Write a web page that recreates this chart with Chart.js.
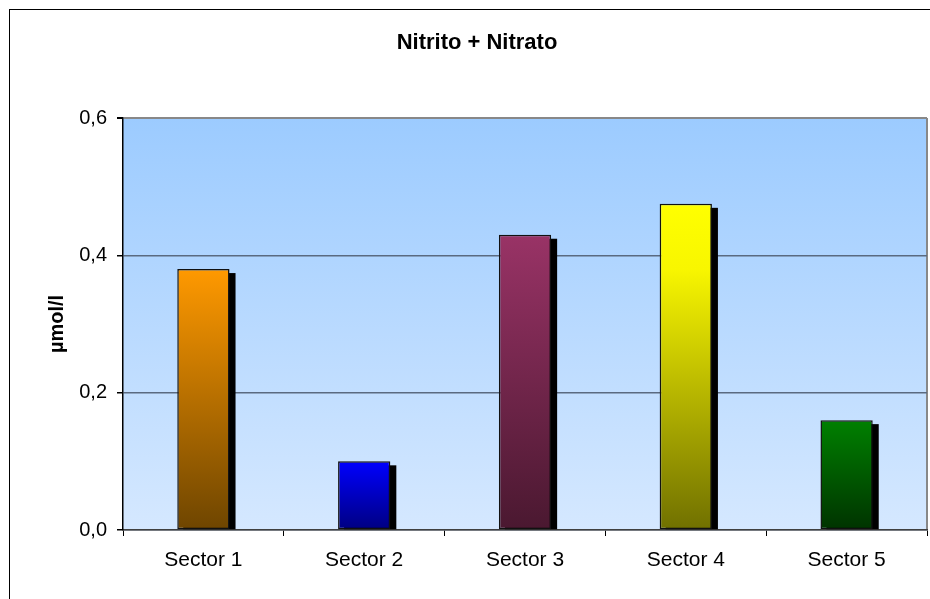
<!DOCTYPE html>
<html>
<head>
<meta charset="utf-8">
<title>Nitrito + Nitrato</title>
<script src="https://cdn.jsdelivr.net/npm/chart.js@4.4.0/dist/chart.umd.min.js"></script>
<style>
    html, body { margin: 0; padding: 0; background: #fff; }
    #wrap { width: 930px; height: 599px; overflow: hidden; position: relative; }
    #chart { display: block; }
</style>
</head>
<body>
<div id="wrap"><canvas id="chart" width="954" height="599"></canvas></div>
<script>
const sectors = ['Sector 1', 'Sector 2', 'Sector 3', 'Sector 4', 'Sector 5'];
const values = [0.38, 0.10, 0.43, 0.475, 0.16];
const topColors = ['#FF9900', '#0000FF', '#993366', '#FFFF00', '#008000'];
const bottomColors = ['#6E4500', '#000080', '#4A1830', '#707000', '#003300'];
const yTicks = [0, 0.2, 0.4, 0.6];

const FONT = "'Liberation Sans', Arial, sans-serif";

// plot background + right border + outer frame
const frame = {
    id: 'frame',
    beforeDraw(chart) {
        const { ctx, chartArea: a } = chart;
        const g = ctx.createLinearGradient(0, a.top, 0, a.bottom);
        g.addColorStop(0, '#9CCBFF');
        g.addColorStop(1, '#D5E8FF');
        ctx.save();
        ctx.fillStyle = g;
        ctx.fillRect(a.left, a.top, a.right - a.left, a.bottom - a.top);
        ctx.strokeStyle = '#888';
        ctx.lineWidth = 2;
        ctx.beginPath();
        ctx.moveTo(a.right, a.top);
        ctx.lineTo(a.right, a.bottom);
        ctx.stroke();
        ctx.restore();
    },
    afterDraw(chart) {
        const ctx = chart.ctx;
        ctx.save();
        ctx.strokeStyle = '#000';
        ctx.lineWidth = 1;
        ctx.strokeRect(9.5, 9.5, 935, 620);
        ctx.restore();
    }
};

// black drop shadow behind each bar
const barShadow = {
    id: 'barShadow',
    beforeDatasetsDraw(chart) {
        const ctx = chart.ctx;
        ctx.save();
        ctx.fillStyle = '#000';
        chart.getDatasetMeta(0).data.forEach(bar => {
            const w = bar.width;
            ctx.fillRect(bar.x - w / 2 + 6, bar.y + 4, w, bar.base - bar.y - 4);
        });
        ctx.restore();
    }
};

function barFill(c) {
    const chart = c.chart;
    const i = c.dataIndex;
    if (!chart.chartArea || i === undefined) return topColors[i] || '#000';
    const y = chart.scales.y;
    const top = y.getPixelForValue(values[i]);
    const base = y.getPixelForValue(0);
    const g = chart.ctx.createLinearGradient(0, top, 0, base);
    g.addColorStop(0, topColors[i]);
    if (i === 3) g.addColorStop(0.2, '#F8F600');
    g.addColorStop(1, bottomColors[i]);
    return g;
}

new Chart(document.getElementById('chart'), {
    type: 'bar',
    data: {
        labels: sectors,
        datasets: [{
            data: values,
            backgroundColor: barFill,
            borderColor: '#111',
            borderWidth: 1.5,
            borderSkipped: false,
            barPercentage: 0.325,
            categoryPercentage: 1
        }]
    },
    plugins: [frame, barShadow],
    options: {
        responsive: false,
        animation: false,
        devicePixelRatio: 1,
        layout: { padding: { left: 27, right: 27, top: 0, bottom: 0 } },
        plugins: {
            legend: { display: false },
            tooltip: { enabled: false },
            title: {
                display: true,
                text: 'Nitrito + Nitrato',
                color: '#000',
                font: { family: FONT, size: 22, weight: 'bold' },
                padding: { top: 30, bottom: 61.6 }
            }
        },
        scales: {
            x: {
                afterFit: s => { s.height = 69; },
                grid: { offset: true, drawOnChartArea: false, tickLength: 6, tickColor: '#000' },
                border: { color: '#404040', width: 1.5 },
                ticks: { color: '#000', padding: 12, font: { family: FONT, size: 21 } }
            },
            y: {
                min: 0,
                max: 0.6,
                afterFit: s => { s.width = 96; },
                afterBuildTicks: s => { s.ticks = yTicks.map(v => ({ value: v })); },
                grid: {
                    color: c => c.tick && c.tick.value === 0.6 ? '#888' : '#5A6A80',
                    lineWidth: c => c.tick && c.tick.value === 0.6 ? 2 : 1.5,
                    tickLength: 6,
                    tickColor: '#000'
                },
                border: { color: '#000', width: 1.5 },
                ticks: {
                    color: '#000',
                    padding: 10,
                    font: { family: FONT, size: 20 },
                    callback: v => v.toFixed(1).replace('.', ',')
                },
                title: {
                    display: true,
                    text: 'µmol/l',
                    color: '#000',
                    font: { family: FONT, size: 20, weight: 'bold' },
                    padding: { top: 18, bottom: 0 }
                }
            }
        }
    }
});
</script>
</body>
</html>
